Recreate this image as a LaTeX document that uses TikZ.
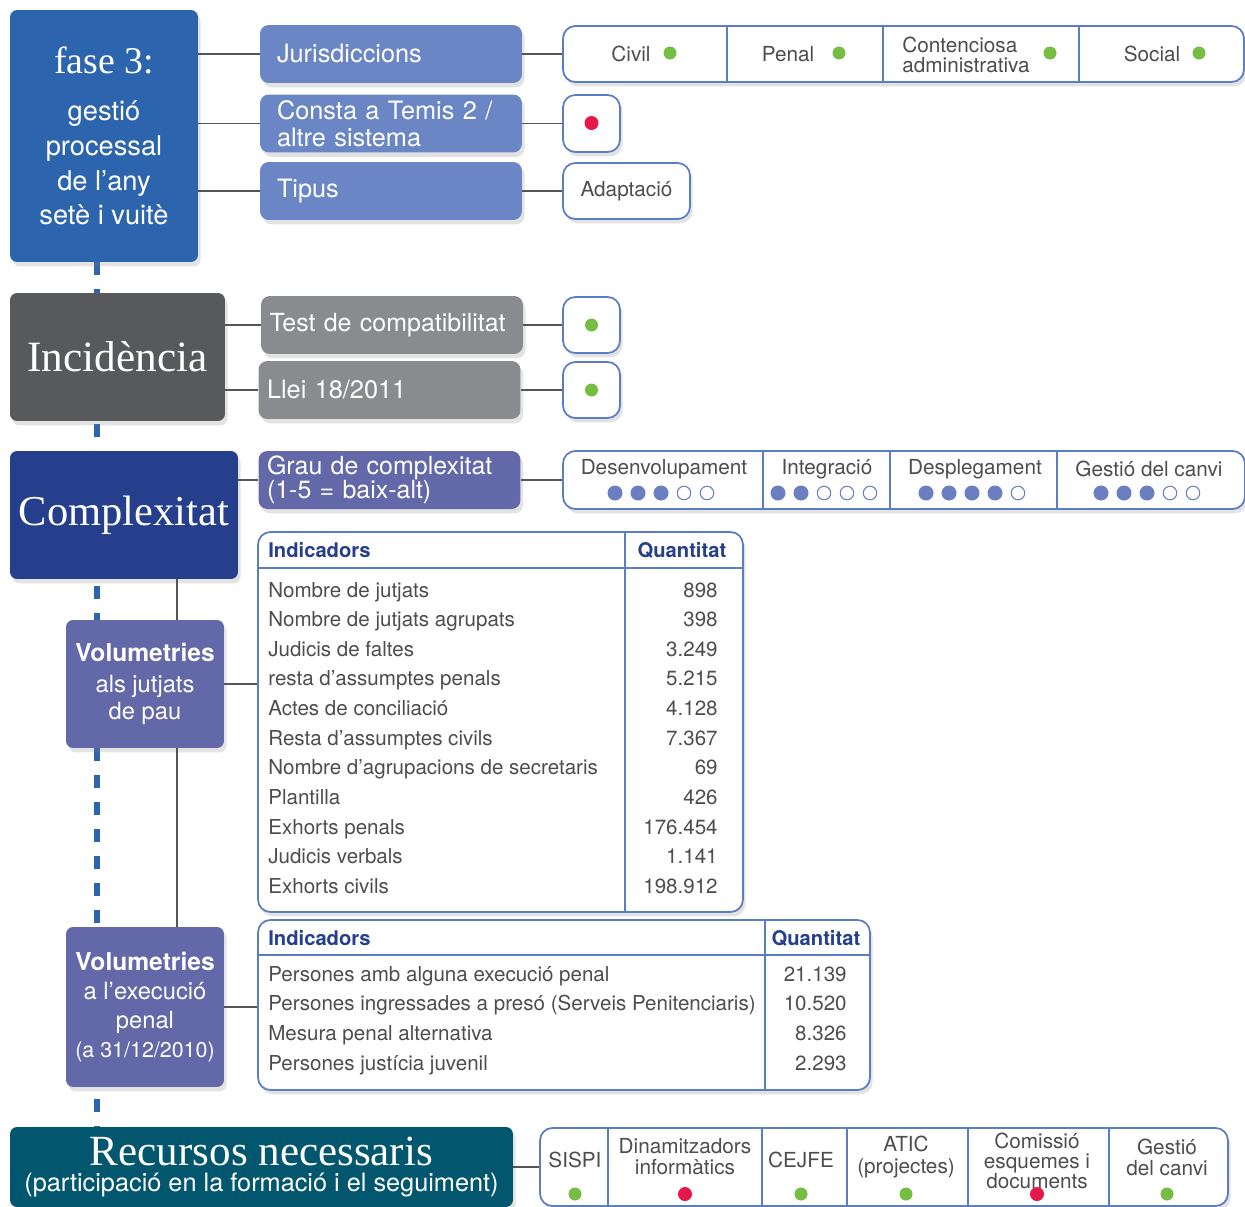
\documentclass[tikz,border=0pt]{standalone}
\usepackage{fontspec}
\setsansfont{TeX Gyre Heros}
\renewcommand{\familydefault}{\sfdefault}
\newfontfamily\titlefont{Liberation Serif}
\usetikzlibrary{positioning, backgrounds, shadows, calc}
\definecolor{faseblue}{HTML}{2D64AE}
\definecolor{lightblue}{HTML}{6B86C4}
\definecolor{incgray}{HTML}{58595B}
\definecolor{midgray}{HTML}{8A8B8E}
\definecolor{navyblue}{HTML}{253F8D}
\definecolor{volpurple}{HTML}{6268A8}
\definecolor{recteal}{HTML}{02566D}
\definecolor{rimblue}{HTML}{5B7DC5}
\definecolor{okgreen}{HTML}{76BE43}
\definecolor{nored}{HTML}{E8174A}
\definecolor{rateblue}{HTML}{6B7FC0}
\definecolor{inktext}{HTML}{4D4D4F}
\definecolor{linkgray}{HTML}{555555}
\tikzset{
	softshadow/.style={
			drop shadow={opacity=0.22, shadow xshift=1.5pt, shadow yshift=-2.5pt}
		},
	titlenode/.style={
			rectangle,
			rounded corners=4pt,
			text=white,
			align=center,
			inner sep=0pt,
			softshadow
		},
	labelnode/.style={
			rectangle,
			rounded corners=5pt,
			text=white,
			align=left,
			text width=4.56cm,
			inner xsep=0.34cm,
			inner ysep=0pt,
			minimum height=1.16cm,
			font=\fontsize{14.4pt}{15.3pt}\selectfont,
			softshadow
		},
	widelabel/.style={
			labelnode,
			text width=4.9cm,
			inner xsep=0.17cm
		},
	rownode/.style={
			rectangle,
			draw=rimblue,
			line width=1pt,
			fill=white,
			rounded corners=7pt,
			inner sep=0pt,
			softshadow
		},
	celltext/.style={
			text=inktext,
			align=center,
			inner sep=0pt,
			font=\fontsize{11.8pt}{12pt}\selectfont
		},
	rowtext/.style={
			text=inktext,
			inner sep=0pt,
			font=\fontsize{11.7pt}{12pt}\selectfont
		},
	headtext/.style={
			text=navyblue,
			inner sep=0pt,
			font=\fontsize{11.5pt}{12pt}\selectfont\bfseries
		},
	divider/.style={
			draw=rimblue,
			line width=1pt
		},
	link/.style={
			draw=linkgray,
			line width=0.8pt
		},
	spineline/.style={
			draw=faseblue,
			line width=0.12cm,
			dash pattern=on 0.25cm off 0.29cm
		},
	greendot/.style={circle, fill=okgreen, minimum size=0.26cm, inner sep=0pt},
	reddot/.style={circle, fill=nored, minimum size=0.28cm, inner sep=0pt},
	ratefull/.style={circle, fill=rateblue, minimum size=0.3cm, inner sep=0pt},
	rateempty/.style={circle, draw=rateblue, line width=0.6pt, fill=white, minimum size=0.27cm, inner sep=0pt}
}

\begin{document}
\begin{tikzpicture}[x=0.02cm, y=-0.02cm]
\useasboundingbox (0,0) rectangle (1245,1207);
\coordinate (spine) at (97,0);
\coordinate (trunk) at (177,0);

% fase 3
\node[titlenode, fill=faseblue, minimum width=3.76cm, minimum height=5.04cm,
      font=\fontsize{15.5pt}{19.8pt}\selectfont] (fase) at (104,136)
      {{\titlefont\fontsize{21.5pt}{21.5pt}\selectfont fase 3:}\\[7pt]gestió\\processal\\de l’any\\setè i vuitè};
\node[labelnode, fill=lightblue] (juris) at (391,54) {Jurisdiccions};
\node[labelnode, fill=lightblue] (temis) at (391,123.5) {Consta a Temis 2 /\\altre sistema};
\node[labelnode, fill=lightblue] (tipus) at (391,191) {Tipus};

\node[rownode, minimum width=13.62cm, minimum height=1.12cm] (civilrow) at (903.5,54) {};
\foreach \x in {727,883,1079} \draw[divider] (\x,26) -- (\x,82);
\node[celltext] (civil) at (631,54) {Civil};
\node[greendot] (civildot) at (670,53) {};
\node[celltext] (penal) at (788,54) {Penal};
\node[greendot] (penaldot) at (839,53) {};
\node[celltext, align=left, font=\fontsize{11.8pt}{11.8pt}\selectfont] (conten) at (966,55) {Contenciosa\\administrativa};
\node[greendot] (contendot) at (1050,53) {};
\node[celltext] (social) at (1152,54) {Social};
\node[greendot] (socialdot) at (1199,53) {};

\node[rownode, minimum width=1.14cm, minimum height=1.14cm] (temisbox) at (591.5,123.5) {};
\node[reddot] (temisdot) at (591.5,123) {};
\node[rownode, minimum width=2.54cm, minimum height=1.12cm, text=inktext,
      font=\fontsize{11.8pt}{12pt}\selectfont] (adapt) at (626.5,191) {Adaptació};

\draw[link] (fase.east |- juris.west) -- (juris.west);
\draw[link] (fase.east |- temis.west) -- (temis.west);
\draw[link] (fase.east |- tipus.west) -- (tipus.west);
\draw[link] (juris.east) -- (civilrow.west);
\draw[link] (temis.east) -- (temisbox.west);
\draw[link] (tipus.east) -- (adapt.west);

% incidencia
\node[titlenode, fill=incgray, minimum width=4.3cm, minimum height=2.56cm,
      font=\titlefont\fontsize{24.6pt}{25pt}\selectfont] (incid) at (117.5,357) {Incidència};
\node[widelabel, fill=midgray, font=\fontsize{14.2pt}{15pt}\selectfont] (test) at (392,325) {Test de compatibilitat};
\node[widelabel, fill=midgray] (llei) at (389.5,390) {Llei 18/2011};
\node[rownode, minimum width=1.14cm, minimum height=1.12cm] (testbox) at (591.5,325) {};
\node[greendot] (testdot) at (591.5,325) {};
\node[rownode, minimum width=1.14cm, minimum height=1.12cm] (lleibox) at (591.5,390) {};
\node[greendot] (lleidot) at (591.5,390) {};

\draw[link] (incid.east |- test.west) -- (test.west);
\draw[link] (incid.east |- llei.west) -- (llei.west);
\draw[link] (test.east) -- (testbox.west);
\draw[link] (llei.east) -- (lleibox.west);

% complexitat
\node[titlenode, fill=navyblue, minimum width=4.56cm, minimum height=2.56cm,
      font=\titlefont\fontsize{24.2pt}{25pt}\selectfont] (complex) at (124,515) {Complexitat};
\node[widelabel, fill=volpurple, font=\fontsize{14.2pt}{13.6pt}\selectfont] (grau) at (389.5,480)
      {Grau de complexitat\\(1-5 = baix-alt)};
\node[rownode, minimum width=13.64cm, minimum height=1.16cm] (raterow) at (904,480) {};
\foreach \x in {763,890,1057} \draw[divider] (\x,451) -- (\x,509);
\node[celltext] (desen) at (664,469) {Desenvolupament};
\node[celltext] (integ) at (827,469) {Integració};
\node[celltext] (despl) at (975,469) {Desplegament};
\node[celltext] (gesti) at (1149,469) {Gestió del canvi};
\foreach \cx/\n [count=\k] in {661/3, 824/2, 972/4, 1147/3}
  \foreach \i in {1,...,5} {
    \ifnum\i>\n\relax \def\dotstyle{rateempty}\else\def\dotstyle{ratefull}\fi
    \node[\dotstyle] (r\k-\i) at ({\cx+23*(\i-3)},493) {};
  }

\draw[link] (complex.east |- grau.west) -- (grau.west);
\draw[link] (grau.east) -- (raterow.west);

% volumetries jutjats de pau
\node[titlenode, fill=volpurple, minimum width=3.16cm, minimum height=2.56cm,
      font=\fontsize{13.5pt}{15.5pt}\selectfont] (vol1) at (145,684)
      {{\bfseries\fontsize{14pt}{15.5pt}\selectfont Volumetries}\\[2pt]als jutjats\\de pau};
\node[rownode, minimum width=9.7cm, minimum height=7.6cm] (tab1) at (500.5,722) {};
\draw[divider] (258,568) -- (743,568);
\draw[divider] (625,532) -- (625,912);
\node[headtext, anchor=base west] (ind1) at (268,557) {Indicadors};
\node[headtext, anchor=base] (qua1) at (682,557) {Quantitat};
\foreach \txt/\val [count=\i] in {Nombre de jutjats/898, Nombre de jutjats agrupats/398,
    Judicis de faltes/3.249, resta d’assumptes penals/5.215, Actes de conciliació/4.128,
    Resta d’assumptes civils/7.367, Nombre d’agrupacions de secretaris/69, Plantilla/426,
    Exhorts penals/176.454, Judicis verbals/1.141, Exhorts civils/198.912} {
  \node[rowtext, anchor=base west] (ta\i) at (268,{597+29.65*(\i-1)}) {\txt};
  \node[rowtext, anchor=base east] (va\i) at (718,{597+29.65*(\i-1)}) {\val};
}

% volumetries execucio penal
\node[titlenode, fill=volpurple, minimum width=3.16cm, minimum height=3.2cm,
      font=\fontsize{13.5pt}{16.4pt}\selectfont] (vol2) at (145,1007)
      {{\bfseries\fontsize{14pt}{16pt}\selectfont Volumetries}\\a l’execució\\penal\\{\fontsize{12.2pt}{16pt}\selectfont (a 31/12/2010)}};
\node[rownode, minimum width=12.24cm, minimum height=3.4cm] (tab2) at (564,1005) {};
\draw[divider] (258,955) -- (870,955);
\draw[divider] (765,920) -- (765,1090);
\node[headtext, anchor=base west] (ind2) at (268,945) {Indicadors};
\node[headtext, anchor=base] (qua2) at (816,945) {Quantitat};
\foreach \txt/\val [count=\i] in {Persones amb alguna execució penal/21.139,
    Persones ingressades a presó (Serveis Penitenciaris)/10.520,
    Mesura penal alternativa/8.326, Persones justícia juvenil/2.293} {
  \node[rowtext, anchor=base west] (tb\i) at (268,{981+29.7*(\i-1)}) {\txt};
  \node[rowtext, anchor=base east] (vb\i) at (847,{981+29.7*(\i-1)}) {\val};
}

\draw[link] (complex.south -| trunk) -- (vol1.north -| trunk);
\draw[link] (vol1.south -| trunk) -- (vol2.north -| trunk);
\draw[link] (vol1.east) -- (vol1.east -| tab1.west);
\draw[link] (vol2.east) -- (vol2.east -| tab2.west);

% recursos
\node[titlenode, fill=recteal, minimum width=10.06cm, minimum height=1.6cm,
      font=\fontsize{14.4pt}{15pt}\selectfont] (recursos) at (261.5,1167)
      {{\titlefont\fontsize{24.5pt}{24.5pt}\selectfont Recursos necessaris}\\(participació en la formació i el seguiment)};
\node[rownode, minimum width=13.76cm, minimum height=1.56cm] (resrow) at (884,1167) {};
\foreach \x in {608,762,847,968,1109} \draw[divider] (\x,1128) -- (\x,1206);
\node[celltext] (sispi) at (575,1160) {SISPI};
\node[celltext] (dinam) at (685,1157) {Dinamitzadors\\informàtics};
\node[celltext] (cejfe) at (801,1160) {CEJFE};
\node[celltext] (atic) at (906,1157) {ATIC\\(projectes)};
\node[celltext, font=\fontsize{11.8pt}{11.3pt}\selectfont] (comis) at (1037,1161) {Comissió\\esquemes i\\documents};
\node[celltext] (gcanvi) at (1167,1157) {Gestió\\del canvi};
\node[greendot] (sispidot) at (575,1194) {};
\node[reddot] (dinamdot) at (685,1194) {};
\node[greendot] (cejfedot) at (801,1194) {};
\node[greendot] (aticdot) at (906,1194) {};
\node[reddot] (comisdot) at (1037,1194) {};
\node[greendot] (gcanvidot) at (1167,1194) {};

\draw[link] (recursos.east) -- (resrow.west);

\begin{scope}[on background layer]
\draw[spineline] (fase.south -| spine) -- (recursos.north -| spine);
\end{scope}
\end{tikzpicture}
\end{document}
